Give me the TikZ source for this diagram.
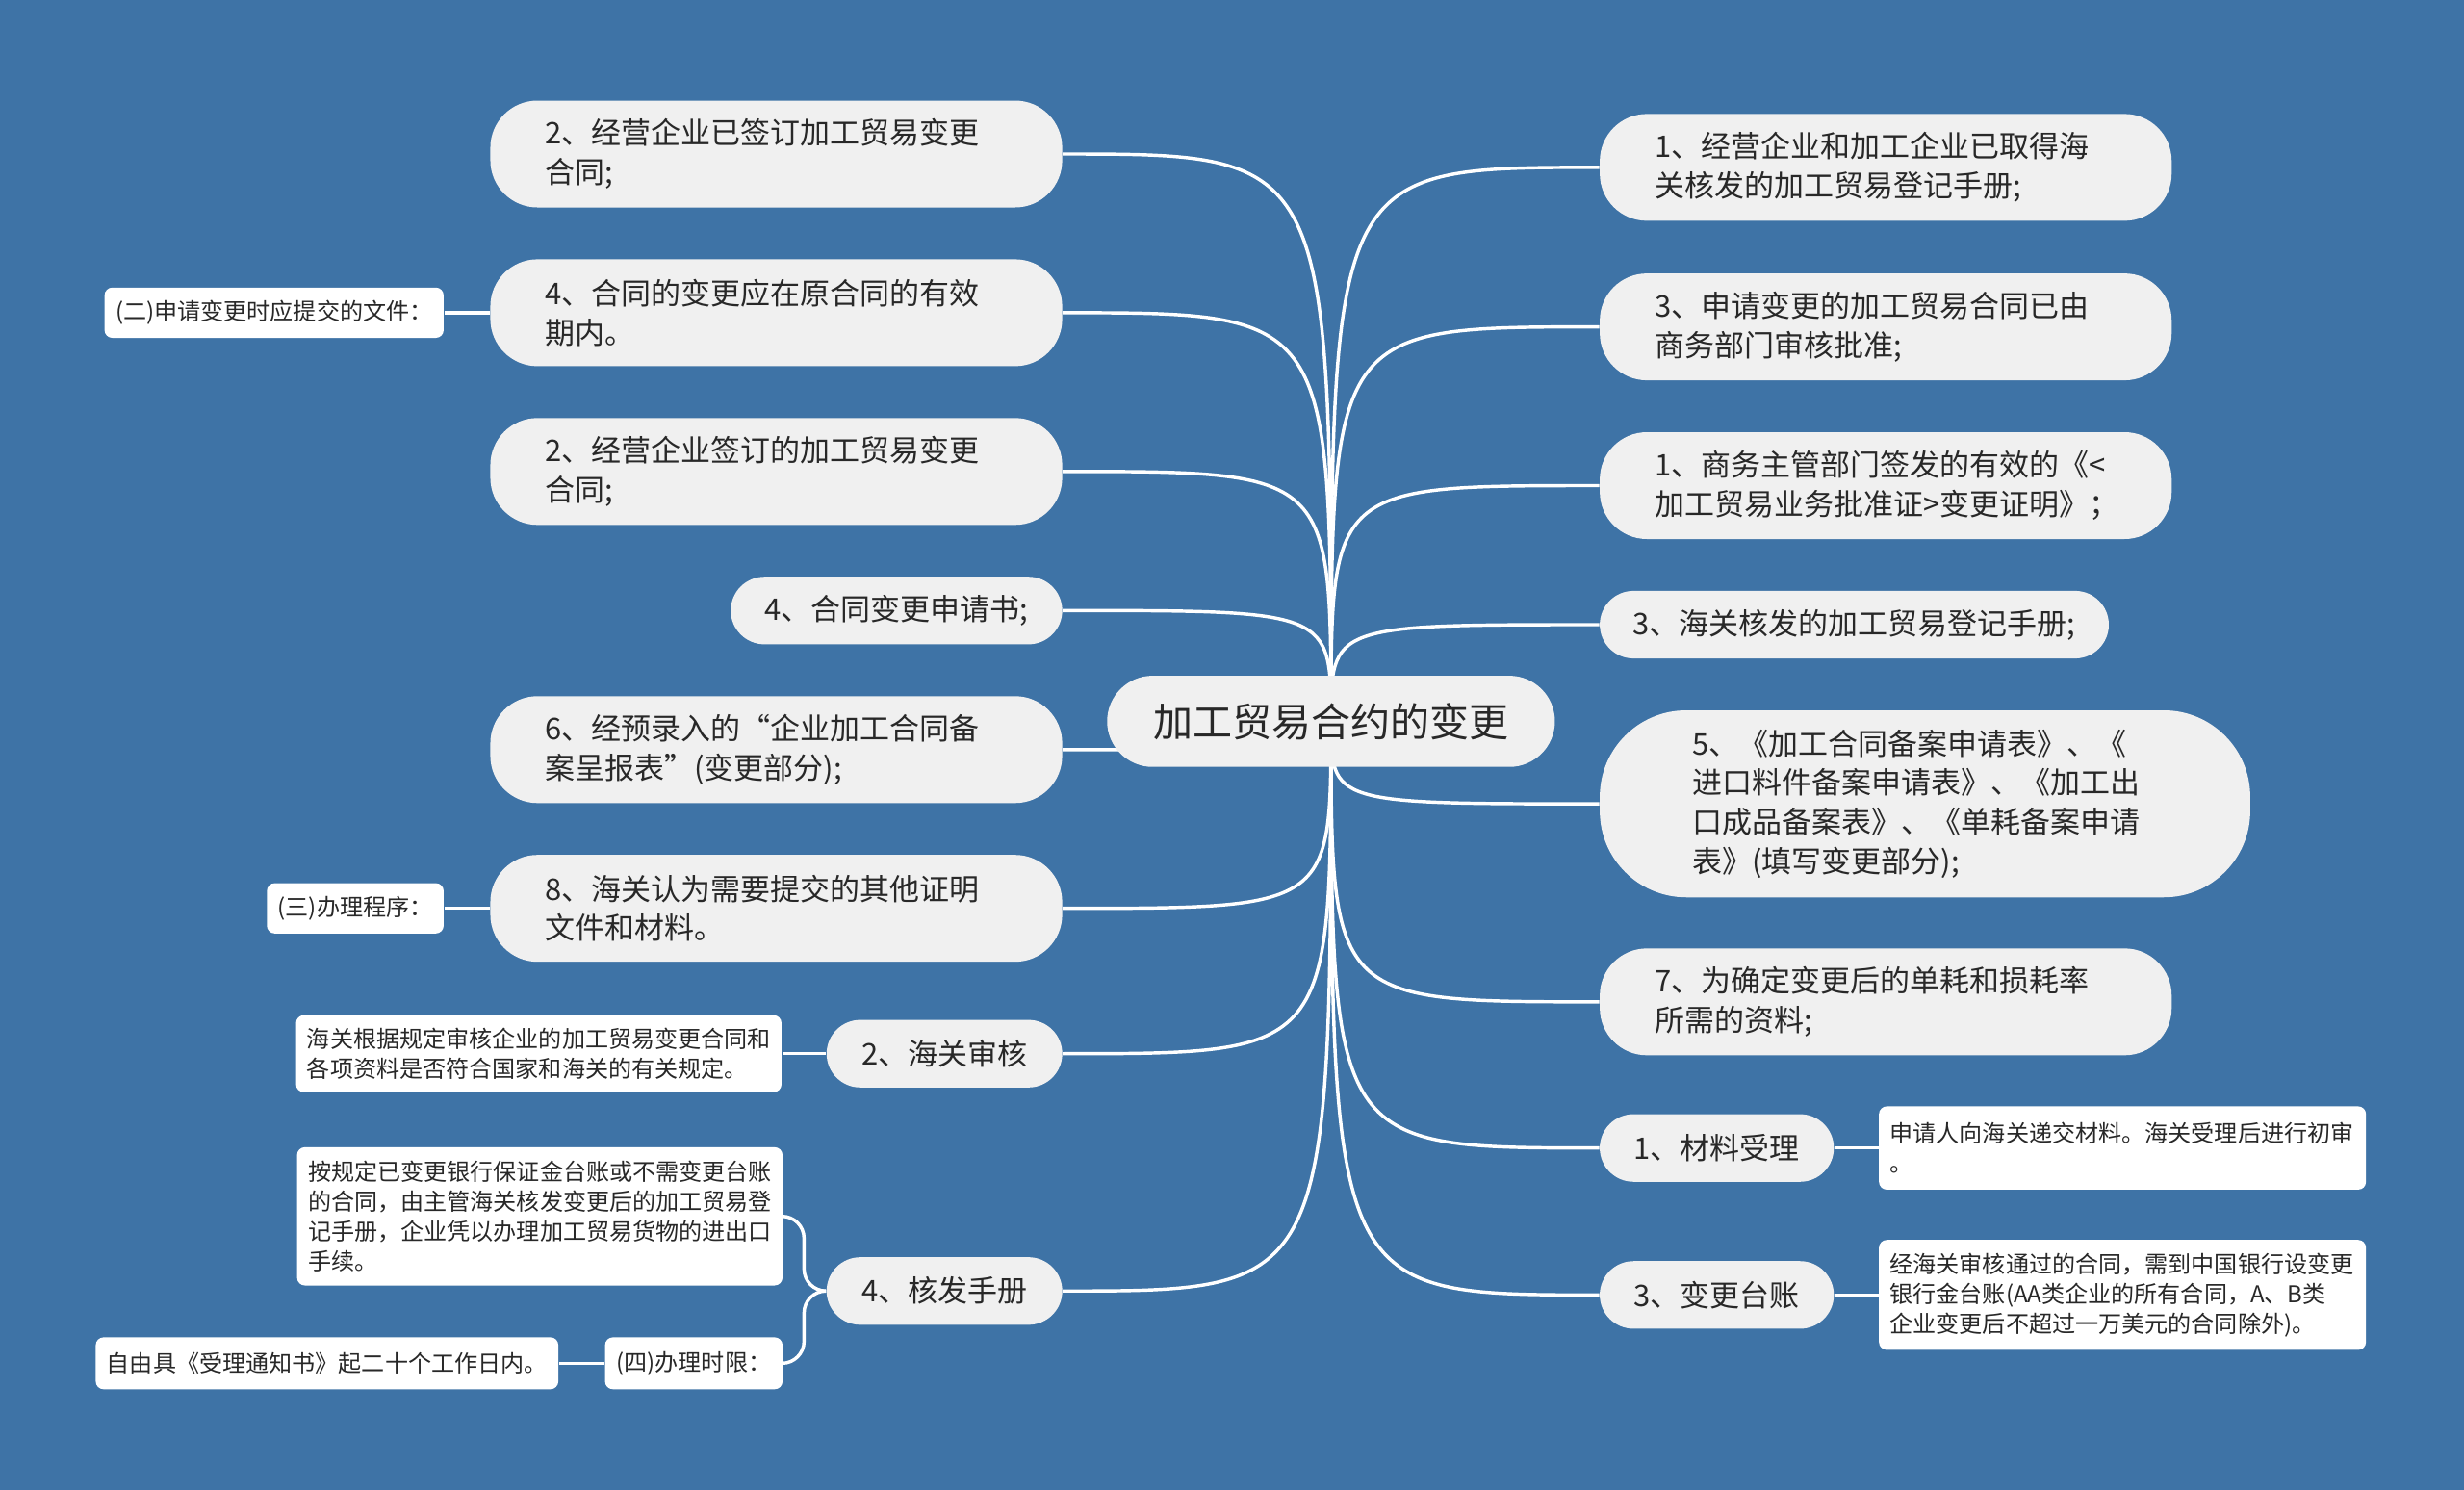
\documentclass[tikz,border=0pt]{standalone}
\usepackage{fontspec}
\setmainfont{Noto Sans CJK SC}
\usetikzlibrary{positioning}
\definecolor{bgblue}{RGB}{62,115,166}
\definecolor{pillgray}{RGB}{240,240,240}
\definecolor{ink}{RGB}{40,40,40}
\pgfdeclarelayer{bg}
\pgfdeclarelayer{links}
\pgfsetlayers{bg,links,main}

\begin{document}
\begin{tikzpicture}[x=0.02cm, y=-0.02cm,
        root/.style={fill=pillgray, text=ink, rounded corners=0.58cm, minimum width=5.7cm,
            minimum height=1.16cm, font=\fontsize{14.3}{17}\selectfont},
        pill/.style={fill=pillgray, text=ink, font=\fontsize{10.8}{14.2}\selectfont, inner ysep=0pt},
        twoline/.style={pill, rounded corners=0.6cm, text width=5.88cm, inner xsep=0.7cm,
            align=left, minimum height=1.36cm},
        oneline/.style={pill, rounded corners=0.43cm, minimum height=0.86cm, inner xsep=0pt},
        note/.style={fill=white, text=ink, rounded corners=0.1cm, font=\fontsize{8.4}{10.8}\selectfont,
            inner xsep=0.14cm, inner ysep=0pt, align=left},
        link/.style={draw=white, line width=1.2pt},
    ]
    \useasboundingbox (0,0) rectangle (1568,948);
    \begin{pgfonlayer}{bg}
        \fill[bgblue] (0,0) rectangle (1568,948);
    \end{pgfonlayer}

    % ---- Root ----
    \node[root] (root) at (847,459) {加工贸易合约的变更};

    % ---- Left branches ----
    \node[twoline] (la) at (494,98) {2、经营企业已签订加工贸易变更\\合同;};
    \node[twoline] (lb) at (494,199) {4、合同的变更应在原合同的有效\\期内。};
    \node[twoline] (lc) at (494,300) {2、经营企业签订的加工贸易变更\\合同;};
    \node[oneline, minimum width=4.22cm] (ld) at (570.5,388.5) {4、合同变更申请书;};
    \node[twoline] (le) at (494,477) {6、经预录入的“企业加工合同备\\案呈报表”(变更部分);};
    \node[twoline] (lf) at (494,578) {8、海关认为需要提交的其他证明\\文件和材料。};
    \node[oneline, minimum width=3cm] (lg) at (601,670.5) {2、海关审核};
    \node[oneline, minimum width=3cm] (lh) at (601,821.5) {4、核发手册};

    % ---- Right branches ----
    \node[twoline] (ra) at (1200,106.5) {1、经营企业和加工企业已取得海\\关核发的加工贸易登记手册;};
    \node[twoline] (rb) at (1200,208) {3、申请变更的加工贸易合同已由\\商务部门审核批准;};
    \node[twoline] (rc) at (1200,309) {1、商务主管部门签发的有效的《<\\加工贸易业务批准证>变更证明》；};
    \node[oneline, minimum width=6.48cm] (rd) at (1180,397.5) {3、海关核发的加工贸易登记手册;};
    \node[twoline, text width=5.92cm, inner xsep=1.18cm, minimum height=2.38cm,
          rounded corners=1.1cm] (re) at (1225,511.5)
        {5、《加工合同备案申请表》、《\\进口料件备案申请表》、《加工出\\口成品备案表》、《单耗备案申请\\表》(填写变更部分);};
    \node[twoline] (rf) at (1200,637.5) {7、为确定变更后的单耗和损耗率\\所需的资料;};
    \node[oneline, minimum width=2.98cm] (rg) at (1092.5,730.5) {1、材料受理};
    \node[oneline, minimum width=2.98cm] (rh) at (1092.5,824) {3、变更台账};

    % ---- Notes ----
    \node[note, minimum width=4.3cm, minimum height=0.64cm, align=center, left=0.58cm of lb] (na)
        {(二)申请变更时应提交的文件：};
    \node[note, minimum width=2.22cm, minimum height=0.64cm, align=center, left=0.58cm of lf] (nb)
        {(三)办理程序：};
    \node[note, text width=5.9cm, minimum height=0.98cm, left=0.56cm of lg] (nc)
        {海关根据规定审核企业的加工贸易变更合同和\\各项资料是否符合国家和海关的有关规定。};
    \node[note, text width=5.9cm, minimum height=1.76cm] (nd) at (343.5,774)
        {按规定已变更银行保证金台账或不需变更台账\\的合同，由主管海关核发变更后的加工贸易登\\记手册，企业凭以办理加工贸易货物的进出口\\手续。};
    \node[note, minimum width=2.26cm, minimum height=0.66cm, align=center] (ne) at (441.5,867.5)
        {(四)办理时限：};
    \node[note, minimum width=5.88cm, minimum height=0.66cm, align=center, left=0.58cm of ne] (nf)
        {自由具《受理通知书》起二十个工作日内。};
    \node[note, text width=5.92cm, minimum height=1.06cm, right=0.56cm of rg] (ng)
        {申请人向海关递交材料。海关受理后进行初审\\。};
    \node[note, text width=5.92cm, minimum height=1.4cm, right=0.56cm of rh] (nh)
        {经海关审核通过的合同，需到中国银行设变更\\银行金台账(AA类企业的所有合同，A、B类\\企业变更后不超过一万美元的合同除外)。};

    % ---- Connectors ----
    \begin{pgfonlayer}{links}
        \foreach \b in {la,lb,lc,ld,le,lf,lg,lh}
            \draw[link] (root.center) .. controls (root.center |- \b.east) .. (\b.east);
        \foreach \b in {ra,rb,rc,rd,re,rf,rg,rh}
            \draw[link] (root.center) .. controls (root.center |- \b.west) .. (\b.west);
        \draw[link] (lb.west) -- (na.east);
        \draw[link] (lf.west) -- (nb.east);
        \draw[link] (lg.west) -- (nc.east);
        \coordinate (hk) at ([xshift=-0.28cm]lh.west);
        \draw[link, rounded corners=0.28cm] (lh.west) -- (hk) |- (nd.east);
        \draw[link, rounded corners=0.28cm] (lh.west) -- (hk) |- (ne.east);
        \draw[link] (ne.west) -- (nf.east);
        \draw[link] (rg.east) -- (ng.west);
        \draw[link] (rh.east) -- (nh.west);
    \end{pgfonlayer}
\end{tikzpicture}
\end{document}
